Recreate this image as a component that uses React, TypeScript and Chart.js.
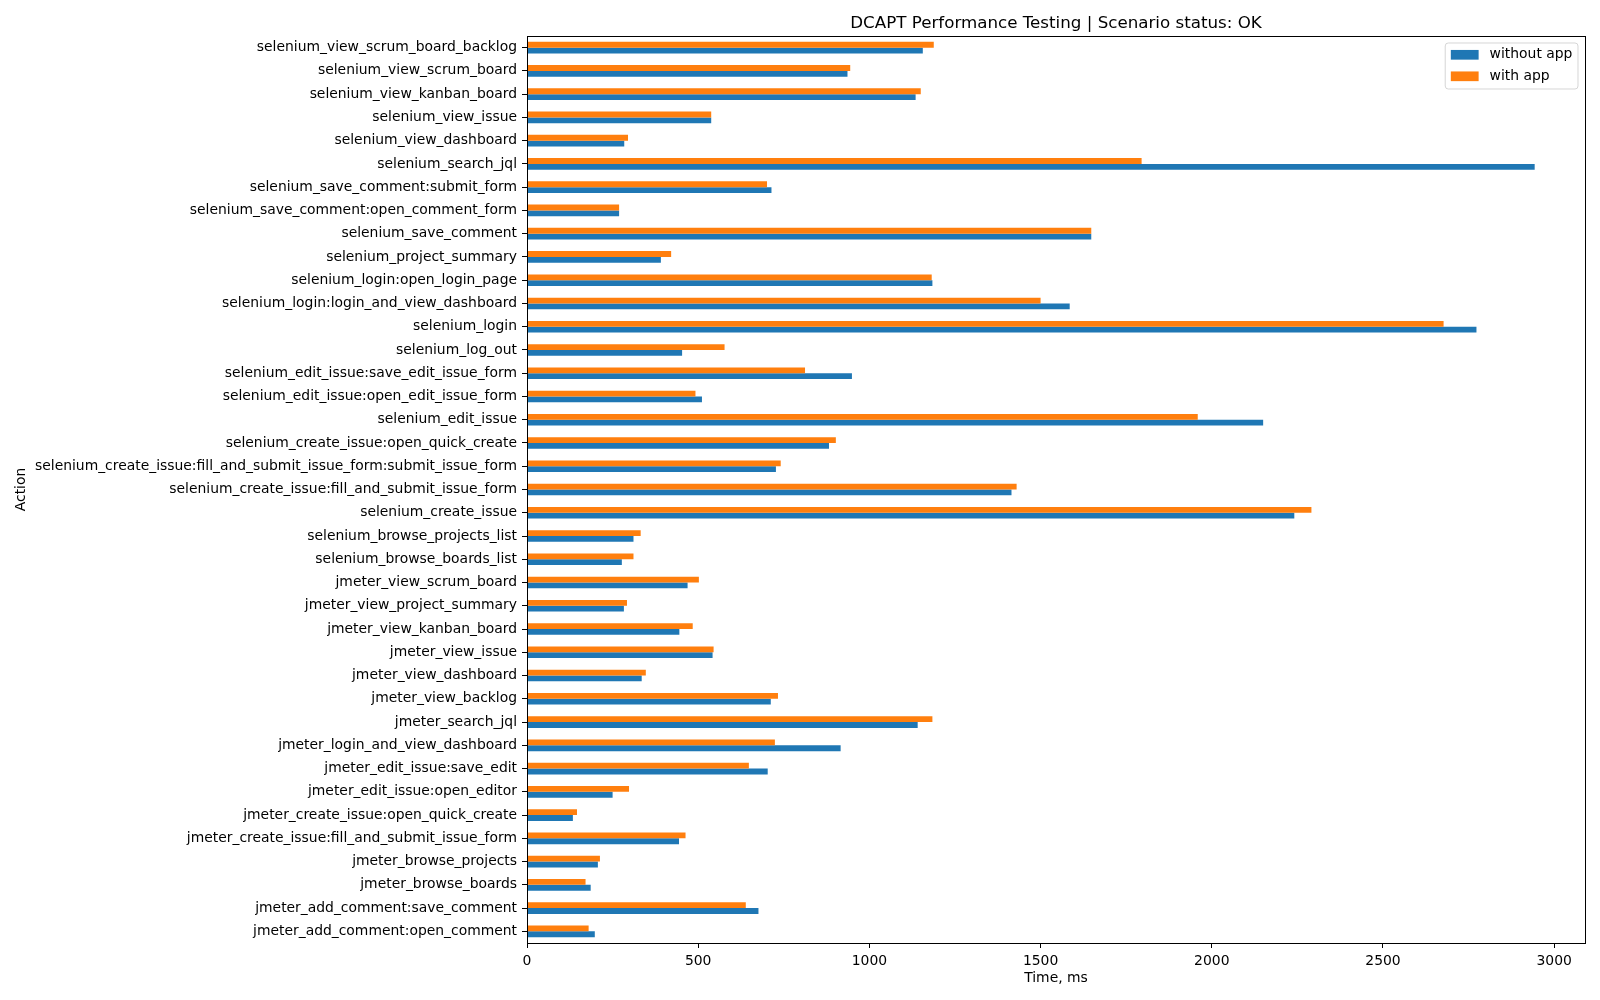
import React, { useEffect, useRef } from "react";
import { Chart, registerables } from "chart.js";

Chart.register(...registerables);

const chartTitle = "DCAPT Performance Testing | Scenario status: OK";
const xAxisTitle = "Time, ms";
const yAxisTitle = "Action";
const seriesNames = ["without app", "with app"];
const seriesColors = ["#1f77b4", "#ff7f0e"];

const actions = [
  "selenium_view_scrum_board_backlog",
  "selenium_view_scrum_board",
  "selenium_view_kanban_board",
  "selenium_view_issue",
  "selenium_view_dashboard",
  "selenium_search_jql",
  "selenium_save_comment:submit_form",
  "selenium_save_comment:open_comment_form",
  "selenium_save_comment",
  "selenium_project_summary",
  "selenium_login:open_login_page",
  "selenium_login:login_and_view_dashboard",
  "selenium_login",
  "selenium_log_out",
  "selenium_edit_issue:save_edit_issue_form",
  "selenium_edit_issue:open_edit_issue_form",
  "selenium_edit_issue",
  "selenium_create_issue:open_quick_create",
  "selenium_create_issue:fill_and_submit_issue_form:submit_issue_form",
  "selenium_create_issue:fill_and_submit_issue_form",
  "selenium_create_issue",
  "selenium_browse_projects_list",
  "selenium_browse_boards_list",
  "jmeter_view_scrum_board",
  "jmeter_view_project_summary",
  "jmeter_view_kanban_board",
  "jmeter_view_issue",
  "jmeter_view_dashboard",
  "jmeter_view_backlog",
  "jmeter_search_jql",
  "jmeter_login_and_view_dashboard",
  "jmeter_edit_issue:save_edit",
  "jmeter_edit_issue:open_editor",
  "jmeter_create_issue:open_quick_create",
  "jmeter_create_issue:fill_and_submit_issue_form",
  "jmeter_browse_projects",
  "jmeter_browse_boards",
  "jmeter_add_comment:save_comment",
  "jmeter_add_comment:open_comment",
];

const withoutApp = [
  1156, 936, 1135, 538, 284, 2943, 714, 269, 1648, 391, 1184, 1585, 2773, 453,
  949, 511, 2150, 882, 727, 1415, 2241, 311, 277, 469, 283, 445, 542, 335, 712,
  1141, 916, 703, 250, 134, 444, 207, 186, 676, 198,
];

const withApp = [
  1188, 944, 1150, 538, 295, 1795, 701, 269, 1648, 421, 1182, 1500, 2677, 577,
  812, 492, 1959, 902, 741, 1430, 2291, 332, 311, 502, 292, 484, 545, 347, 733,
  1184, 724, 648, 298, 146, 463, 213, 171, 639, 180,
];

const xTicks = [0, 500, 1000, 1500, 2000, 2500, 3000];
const xMax = 3090;

const FONT = "'DejaVu Sans', sans-serif";

const framePlugin = {
  id: "mplFrame",
  afterDraw(chart: any) {
    const { ctx, chartArea } = chart;
    const { left, right, top, bottom } = chartArea;
    ctx.save();
    // spines
    ctx.strokeStyle = "#000";
    ctx.lineWidth = 1;
    ctx.strokeRect(Math.round(left) + 0.5, Math.round(top) + 0.5, Math.round(right - left), Math.round(bottom - top));
    // title
    ctx.fillStyle = "#000";
    ctx.font = `16.7px ${FONT}`;
    ctx.textAlign = "center";
    ctx.textBaseline = "alphabetic";
    ctx.fillText(chartTitle, (left + right) / 2, top - 8.3);
    // legend
    ctx.font = `13.9px ${FONT}`;
    const pad = 5.6;
    const handleW = 27.8;
    const handleH = 9.7;
    const textPad = 11;
    const rowStep = 21.5;
    const textW = Math.max(...seriesNames.map((n) => ctx.measureText(n).width));
    const boxW = pad * 2 + handleW + textPad + textW;
    const boxH = 46;
    const bx = right - 7 - boxW;
    const by = top + 7;
    ctx.beginPath();
    const r = 3;
    ctx.moveTo(bx + r, by);
    ctx.lineTo(bx + boxW - r, by);
    ctx.quadraticCurveTo(bx + boxW, by, bx + boxW, by + r);
    ctx.lineTo(bx + boxW, by + boxH - r);
    ctx.quadraticCurveTo(bx + boxW, by + boxH, bx + boxW - r, by + boxH);
    ctx.lineTo(bx + r, by + boxH);
    ctx.quadraticCurveTo(bx, by + boxH, bx, by + boxH - r);
    ctx.lineTo(bx, by + r);
    ctx.quadraticCurveTo(bx, by, bx + r, by);
    ctx.closePath();
    ctx.fillStyle = "rgba(255,255,255,0.8)";
    ctx.fill();
    ctx.strokeStyle = "rgba(204,204,204,0.8)";
    ctx.lineWidth = 1;
    ctx.stroke();
    seriesNames.forEach((name, i) => {
      const cy = by + 11.8 + i * rowStep;
      ctx.fillStyle = seriesColors[i];
      ctx.fillRect(bx + pad, cy - handleH / 2, handleW, handleH);
      ctx.fillStyle = "#000";
      ctx.textAlign = "left";
      ctx.textBaseline = "middle";
      ctx.fillText(name, bx + pad + handleW + textPad, cy);
    });
    ctx.restore();
  },
};

export default function App() {
  const ref = useRef<HTMLCanvasElement | null>(null);

  useEffect(() => {
    if (!ref.current) return;
    const chart = new Chart(ref.current, {
      type: "bar",
      data: {
        labels: actions,
        datasets: [
          {
            label: seriesNames[1],
            data: withApp,
            backgroundColor: seriesColors[1],
            borderWidth: 0,
            categoryPercentage: 0.5,
            barPercentage: 1.0,
          },
          {
            label: seriesNames[0],
            data: withoutApp,
            backgroundColor: seriesColors[0],
            borderWidth: 0,
            categoryPercentage: 0.5,
            barPercentage: 1.0,
          },
        ],
      },
      options: {
        indexAxis: "y",
        animation: false,
        responsive: false,
        devicePixelRatio: 1,
        layout: { padding: { top: 36, right: 15, left: 0, bottom: 0 } },
        plugins: {
          legend: { display: false },
          tooltip: { enabled: false },
          title: { display: false },
        },
        scales: {
          x: {
            type: "linear",
            min: 0,
            max: xMax,
            border: { display: false },
            grid: {
              display: true,
              drawOnChartArea: false,
              drawTicks: true,
              tickLength: 5,
              color: "#000",
            },
            afterBuildTicks: (scale: any) => {
              scale.ticks = xTicks.map((v) => ({ value: v }));
            },
            ticks: {
              padding: 5,
              color: "#000",
              font: { family: FONT, size: 13.9 },
              maxRotation: 0,
              callback: (v: any) => String(v),
            },
            title: {
              display: true,
              text: xAxisTitle,
              color: "#000",
              font: { family: FONT, size: 13.9 },
              padding: { top: 0, bottom: 13.4 },
            },
            afterFit: (scale: any) => {
              scale.height = 57;
            },
          },
          y: {
            type: "category",
            offset: true,
            border: { display: false },
            grid: {
              display: true,
              offset: false,
              drawOnChartArea: false,
              drawTicks: true,
              tickLength: 5,
              color: "#000",
            },
            ticks: {
              autoSkip: false,
              padding: 5,
              color: "#000",
              font: { family: FONT, size: 13.9 },
            },
            title: {
              display: true,
              text: yAxisTitle,
              color: "#000",
              font: { family: FONT, size: 13.9 },
              padding: { top: 12.9, bottom: 0 },
            },
            afterFit: (scale: any) => {
              scale.width = 527;
            },
          },
        },
      },
      plugins: [framePlugin],
    });
    return () => chart.destroy();
  }, []);

  return (
    <div style={{ position: "absolute", left: 0, top: 0, width: 1600, height: 1000, background: "#fff" }}>
      <canvas ref={ref} width={1600} height={1000} />
    </div>
  );
}
